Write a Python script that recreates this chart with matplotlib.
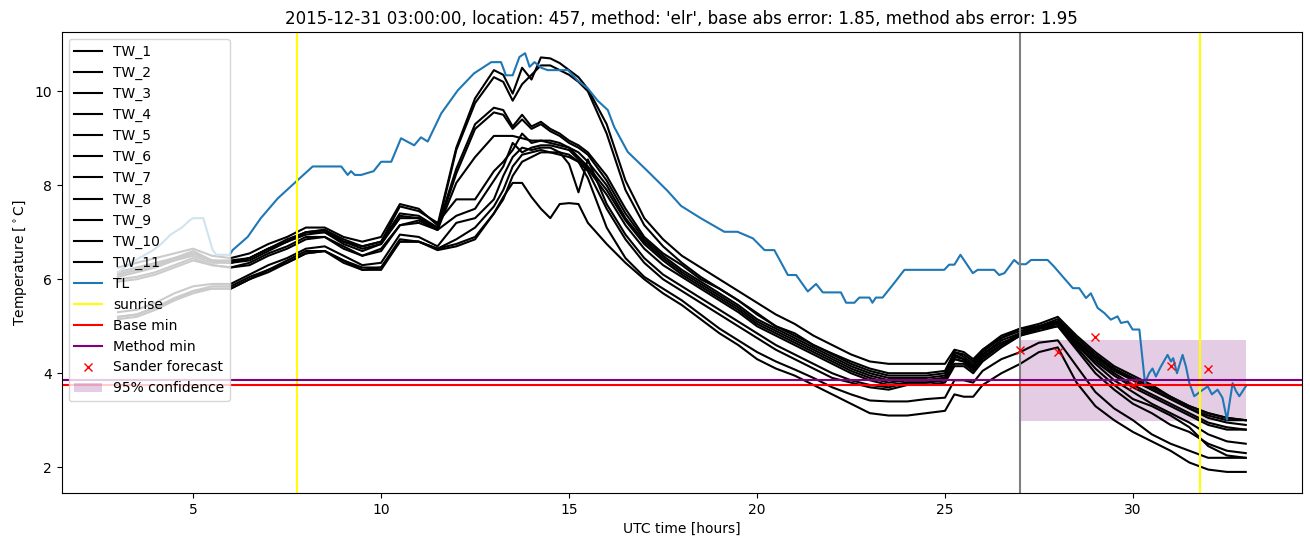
import matplotlib
matplotlib.use("Agg")
import matplotlib.pyplot as plt

# Shared time axis of the TW sensors (UTC hours)
tw_hours = [3.0, 3.5, 4.0, 4.5, 5.0, 5.5, 6.0, 6.5, 7.0, 7.5, 8.0, 8.5, 9.0, 9.5, 10.0, 10.5, 11.0,
            11.5, 12.0, 12.5, 13.0, 13.25, 13.5, 13.75, 14.0, 14.25, 14.5, 14.75, 15.0, 15.25, 15.5,
            16.0, 16.5, 17.0, 17.5, 18.0, 18.5, 19.0, 19.5, 20.0, 20.5, 21.0, 21.5, 22.0, 22.5, 23.0,
            23.5, 24.0, 24.5, 25.0, 25.25, 25.5, 25.75, 26.0, 26.5, 27.0, 27.5, 28.0,
            28.5, 29.0, 29.5, 30.0, 30.5, 31.0, 31.5, 32.0, 32.5, 33.0]

tw_1 = [6.25, 6.35, 6.45, 6.55, 6.65, 6.5, 6.45, 6.55, 6.75, 6.9, 7.1, 7.1, 6.9, 6.8, 6.9, 7.6, 7.5,
        7.15, 8.8, 9.85, 10.45, 10.35, 9.95, 10.5, 10.25, 10.72, 10.7, 10.6, 10.45, 10.3, 10.05,
        9.3, 8.1, 7.3, 6.85, 6.5, 6.25, 6.0, 5.75, 5.5, 5.25, 5.05, 4.8, 4.6, 4.4, 4.25, 4.2, 4.2,
        4.2, 4.2, 4.5, 4.45, 4.3, 4.5, 4.8, 4.95, 5.05, 5.2,
        4.8, 4.45, 4.15, 3.95, 3.75, 3.5, 3.3, 3.15, 3.05, 3.0]
tw_2 = [6.15, 6.25, 6.35, 6.45, 6.6, 6.4, 6.4, 6.45, 6.65, 6.85, 7.0, 7.05, 6.8, 6.7, 6.8, 7.4, 7.35,
        7.1, 8.75, 9.75, 10.3, 10.2, 9.8, 10.15, 10.35, 10.55, 10.55, 10.45, 10.35, 10.2, 10.0,
        9.1, 7.9, 7.15, 6.7, 6.35, 6.05, 5.8, 5.55, 5.28, 5.0, 4.85, 4.6, 4.42, 4.25, 4.1, 4.0, 4.0,
        4.0, 4.05, 4.45, 4.4, 4.25, 4.5, 4.75, 4.95, 5.0, 5.15,
        4.75, 4.4, 4.1, 3.85, 3.65, 3.45, 3.25, 3.05, 2.95, 2.9]
tw_3 = [6.1, 6.2, 6.3, 6.45, 6.55, 6.4, 6.35, 6.45, 6.65, 6.8, 7.0, 7.0, 6.8, 6.65, 6.75, 7.35, 7.3,
        7.1, 8.35, 9.3, 9.65, 9.6, 9.25, 9.5, 9.25, 9.35, 9.2, 9.1, 8.95, 8.85, 8.7,
        8.2, 7.5, 6.9, 6.55, 6.3, 6.0, 5.8, 5.55, 5.25, 5.0, 4.8, 4.6, 4.4, 4.2, 4.05, 3.95, 3.95,
        3.95, 4.0, 4.45, 4.35, 4.2, 4.45, 4.75, 4.9, 5.0, 5.1,
        4.7, 4.35, 4.1, 3.9, 3.7, 3.5, 3.3, 3.15, 3.05, 3.0]
tw_4 = [6.05, 6.15, 6.25, 6.4, 6.5, 6.35, 6.35, 6.4, 6.6, 6.8, 6.95, 7.0, 6.75, 6.6, 6.75, 7.3, 7.3,
        7.05, 8.25, 9.2, 9.55, 9.5, 9.2, 9.4, 9.2, 9.3, 9.15, 9.05, 8.9, 8.8, 8.65,
        8.1, 7.4, 6.85, 6.5, 6.2, 5.95, 5.7, 5.45, 5.15, 4.95, 4.75, 4.55, 4.35, 4.15, 4.0, 3.9, 3.9,
        3.9, 3.95, 4.4, 4.3, 4.15, 4.4, 4.7, 4.85, 4.95, 5.1,
        4.65, 4.3, 4.0, 3.75, 3.55, 3.35, 3.15, 2.95, 2.85, 2.8]
tw_5 = [5.95, 6.0, 6.1, 6.25, 6.4, 6.3, 6.25, 6.3, 6.5, 6.65, 6.85, 6.9, 6.7, 6.5, 6.6, 7.15, 7.2,
        7.05, 8.05, 8.6, 9.05, 9.05, 9.05, 9.0, 8.95, 8.95, 8.9, 8.85, 8.8, 8.7, 8.5,
        8.0, 7.3, 6.8, 6.45, 6.15, 5.9, 5.65, 5.4, 5.1, 4.9, 4.7, 4.5, 4.3, 4.1, 3.95, 3.85, 3.85,
        3.85, 3.9, 4.3, 4.25, 4.1, 4.35, 4.6, 4.8, 4.9, 5.0,
        4.65, 4.35, 4.05, 3.85, 3.65, 3.45, 3.25, 3.1, 3.0, 3.0]
tw_6 = [6.1, 6.2, 6.3, 6.4, 6.55, 6.4, 6.35, 6.45, 6.65, 6.8, 7.0, 7.05, 6.85, 6.7, 6.8, 7.55, 7.45,
        7.2, 7.7, 7.7, 8.3, 8.5, 8.75, 9.1, 8.9, 8.95, 8.95, 8.9, 8.8, 8.6, 8.4,
        7.9, 7.25, 6.75, 6.4, 6.1, 5.85, 5.6, 5.35, 5.05, 4.85, 4.65, 4.45, 4.25, 4.05, 3.9, 3.8, 3.85,
        3.85, 3.9, 4.35, 4.3, 4.15, 4.4, 4.65, 4.8, 4.95, 5.05,
        4.6, 4.25, 3.95, 3.7, 3.5, 3.3, 3.1, 2.9, 2.8, 2.8]
tw_7 = [6.0, 6.05, 6.15, 6.3, 6.45, 6.3, 6.25, 6.35, 6.55, 6.7, 6.9, 6.9, 6.65, 6.5, 6.65, 7.15, 7.25,
        7.05, 7.35, 7.5, 8.1, 8.4, 8.9, 8.7, 8.8, 8.85, 8.85, 8.8, 8.75, 8.55, 8.35,
        7.8, 7.15, 6.65, 6.3, 6.05, 5.8, 5.55, 5.3, 5.0, 4.8, 4.6, 4.4, 4.2, 4.0, 3.85, 3.75, 3.8,
        3.8, 3.85, 4.3, 4.25, 4.1, 4.35, 4.6, 4.85, 5.0, 5.1,
        4.6, 4.2, 3.85, 3.6, 3.35, 3.15, 2.95, 2.7, 2.55, 2.5]
tw_8 = [5.3, 5.35, 5.5, 5.7, 5.85, 5.9, 5.9, 6.1, 6.3, 6.45, 6.65, 6.7, 6.5, 6.3, 6.35, 6.95, 6.9,
        6.7, 7.2, 7.3, 7.7, 8.2, 8.6, 8.8, 8.75, 8.8, 8.8, 8.7, 8.45, 7.85, 8.55,
        7.6, 6.95, 6.45, 6.1, 5.85, 5.6, 5.35, 5.1, 4.85, 4.6, 4.4, 4.2, 4.0, 3.85, 3.75, 3.7, 3.8,
        3.8, 3.85, 4.2, 4.2, 4.05, 4.3, 4.6, 4.85, 5.0, 5.05,
        4.55, 4.1, 3.75, 3.45, 3.3, 3.1, 2.85, 2.45, 2.25, 2.2]
tw_9 = [5.2, 5.25, 5.4, 5.6, 5.75, 5.85, 5.85, 6.05, 6.2, 6.4, 6.6, 6.6, 6.4, 6.25, 6.25, 6.85, 6.8,
        6.65, 6.85, 7.1, 7.55, 7.9, 8.4, 8.65, 8.7, 8.75, 8.7, 8.65, 8.6, 8.5, 8.3,
        7.5, 6.85, 6.35, 6.0, 5.75, 5.5, 5.25, 5.0, 4.75, 4.5, 4.3, 4.1, 3.9, 3.8, 3.7, 3.65, 3.75,
        3.75, 3.8, 4.15, 4.15, 4.0, 4.25, 4.55, 4.8, 4.95, 5.0,
        4.5, 4.0, 3.65, 3.35, 3.15, 2.9, 2.75, 2.5, 2.35, 2.3]
tw_10 = [5.2, 5.25, 5.4, 5.55, 5.75, 5.8, 5.8, 6.0, 6.2, 6.35, 6.55, 6.6, 6.4, 6.2, 6.25, 6.8, 6.8,
         6.65, 6.75, 6.9, 7.4, 7.7, 8.2, 8.5, 8.6, 8.7, 8.7, 8.7, 8.65, 8.5, 8.15,
         7.1, 6.45, 6.05, 5.8, 5.55, 5.25, 4.95, 4.7, 4.45, 4.25, 4.08, 3.9, 3.7, 3.55, 3.42, 3.4, 3.4,
         3.45, 3.48, 3.85, 3.85, 3.8, 4.05, 4.3, 4.45, 4.65, 4.7,
         4.15, 3.6, 3.25, 3.0, 2.7, 2.5, 2.35, 2.2, 2.2, 2.2]
tw_11 = [5.15, 5.2, 5.35, 5.55, 5.7, 5.8, 5.8, 6.0, 6.15, 6.35, 6.55, 6.6, 6.35, 6.2, 6.2, 6.8, 6.8,
         6.62, 6.7, 6.85, 7.4, 7.75, 8.05, 8.05, 7.75, 7.5, 7.3, 7.6, 7.62, 7.6, 7.2,
         6.75, 6.35, 6.0, 5.7, 5.45, 5.15, 4.85, 4.6, 4.3, 4.1, 3.95, 3.75, 3.55, 3.35, 3.15, 3.1, 3.1,
         3.15, 3.2, 3.55, 3.5, 3.5, 3.75, 4.0, 4.2, 4.45, 4.55,
         3.8, 3.3, 3.0, 2.75, 2.55, 2.35, 2.1, 1.95, 1.9, 1.9]
tw_series = [tw_1, tw_2, tw_3, tw_4, tw_5, tw_6, tw_7, tw_8, tw_9, tw_10, tw_11]

# Air temperature (TL)
tl_hours = [3.0, 3.45, 3.9, 4.15, 4.4, 4.7, 4.9, 5.0, 5.27, 5.52, 5.62, 5.97, 6.05, 6.45, 6.8, 7.25,
            7.7, 8.18, 8.94, 9.11, 9.2, 9.3, 9.47, 9.8, 10.0, 10.27, 10.53, 10.88, 11.06, 11.24,
            11.6, 12.04, 12.47, 12.93, 13.19, 13.32, 13.5, 13.68, 13.83, 13.95, 14.08, 14.26,
            14.43, 14.97, 15.23, 15.5, 15.76, 16.03, 16.2, 16.56, 17.09, 17.62, 17.98, 18.5,
            19.13, 19.48, 19.89, 20.2, 20.46, 20.82, 21.04, 21.35, 21.57, 21.75, 22.23, 22.37,
            22.59, 22.72, 22.99, 23.07, 23.16, 23.34, 23.65, 23.92, 24.98, 25.11, 25.25, 25.41,
            25.74, 25.87, 26.31, 26.44, 26.58, 26.84, 26.97, 27.15, 27.29, 27.73, 27.9, 28.17,
            28.4, 28.57, 28.75, 28.88, 29.06, 29.24, 29.41, 29.59, 29.68, 29.86, 29.99, 30.17,
            30.32, 30.43, 30.52, 30.61, 30.74, 30.92, 31.01, 31.07, 31.17, 31.32, 31.41, 31.5,
            31.63, 31.81, 31.99, 32.1, 32.25, 32.38, 32.5, 32.65, 32.74, 32.83, 33.0]
tl_temp = [6.15, 6.4, 6.6, 6.75, 6.95, 7.1, 7.25, 7.3, 7.3, 6.62, 6.52, 6.52, 6.62, 6.9, 7.3, 7.72,
           8.05, 8.4, 8.4, 8.22, 8.3, 8.22, 8.22, 8.3, 8.5, 8.5, 9.0, 8.85, 9.02, 8.93,
           9.53, 10.02, 10.38, 10.62, 10.62, 10.34, 10.34, 10.73, 10.81, 10.52, 10.62, 10.5,
           10.45, 10.45, 10.23, 10.06, 9.8, 9.6, 9.24, 8.71, 8.3, 7.88, 7.56, 7.3,
           7.01, 7.01, 6.87, 6.62, 6.62, 6.09, 6.09, 5.74, 5.9, 5.72, 5.72, 5.5,
           5.5, 5.61, 5.61, 5.5, 5.61, 5.61, 5.92, 6.2, 6.2, 6.31, 6.31, 6.52,
           6.13, 6.2, 6.2, 6.09, 6.13, 6.41, 6.32, 6.32, 6.41, 6.41, 6.27, 6.02,
           5.81, 5.81, 5.6, 5.7, 5.39, 5.28, 5.14, 5.21, 5.07, 5.1, 4.93, 4.93,
           3.79, 4.0, 4.1, 3.93, 4.14, 4.39, 4.25, 4.32, 4.0, 4.39, 4.14, 3.79,
           3.51, 3.62, 3.72, 3.55, 3.65, 3.48, 3.01, 3.79, 3.62, 3.51, 3.72]

# Forecast and reference values
forecast_hours = [27, 28, 29, 30, 31, 32]
forecast_temp = [4.5, 4.45, 4.77, 3.74, 4.16, 4.08]
conf_hours = [27, 33]
conf_low = 2.98
conf_high = 4.71
sunrise_hours = [7.77, 31.77]
forecast_time = 27
base_min = 3.74
method_min = 3.85

fig, ax = plt.subplots(figsize=(13.1, 5.47), dpi=100)
fig.subplots_adjust(left=0.047, right=0.994, top=0.941, bottom=0.099)

# Road sensors
for i, series in enumerate(tw_series):
    ax.plot(tw_hours, series, color="black", label=f"TW_{i + 1}")

ax.plot(tl_hours, tl_temp, color="C0", label="TL")

ax.axvline(sunrise_hours[0], color="yellow", label="sunrise")
ax.axvline(sunrise_hours[1], color="yellow")
ax.axvline(forecast_time, color="gray")

ax.axhline(base_min, color="red", label="Base min")
ax.axhline(method_min, color="purple", label="Method min")

ax.plot(forecast_hours, forecast_temp, "rx", label="Sander forecast")
ax.fill_between(conf_hours, conf_low, conf_high, color="purple", alpha=0.2, linewidth=0,
                label="95% confidence")

ax.set_title("2015-12-31 03:00:00, location: 457, method: 'elr', "
             "base abs error: 1.85, method abs error: 1.95")
ax.set_xlabel("UTC time [hours]")
ax.set_ylabel(r"Temperature [$^\circ$C]")
ax.legend(loc="upper left")

fig.savefig("out.png")
